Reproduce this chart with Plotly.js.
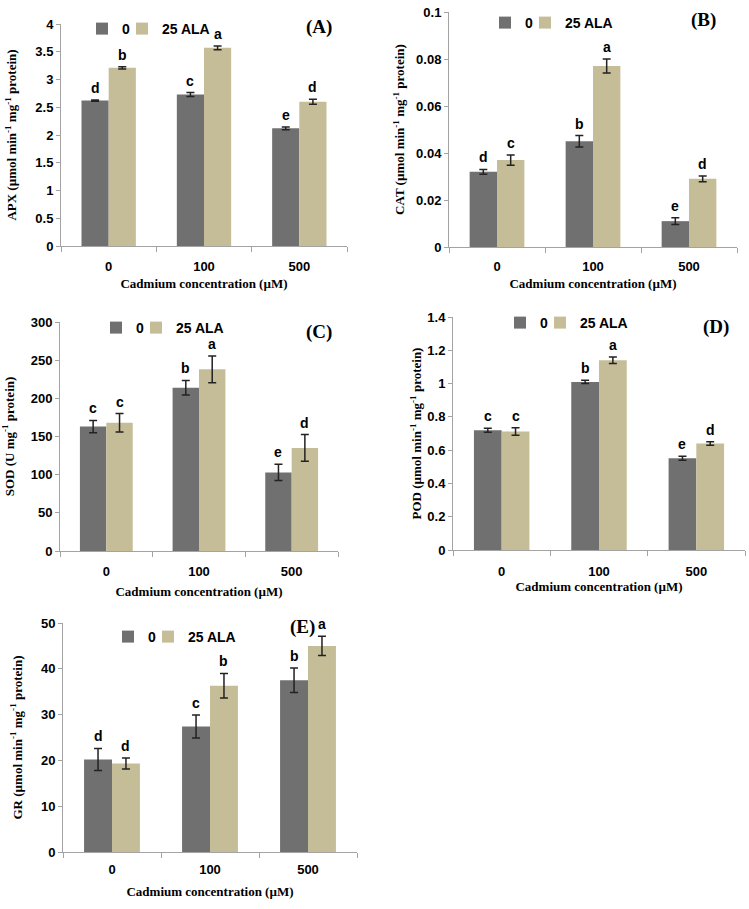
<!DOCTYPE html>
<html>
<head>
<meta charset="utf-8">
<script src="https://cdn.plot.ly/plotly-3.0.1.min.js"></script>
<style>html,body{margin:0;padding:0;background:#fff;}#chart{width:749px;height:909px;}</style>
</head>
<body>
<div id="chart"></div>
<script>
// ---- data ----
const categories = ['0', '100', '500'];
const seriesNames = ['0', '25 ALA'];

const apxCtrl = [2.62, 2.73, 2.12];
const apxAla = [3.21, 3.57, 2.60];
const apxCtrlErr = [0.01, 0.035, 0.025];
const apxAlaErr = [0.02, 0.035, 0.045];
const apxLetCtrl = ['d', 'c', 'e'];
const apxLetAla = ['b', 'a', 'd'];

const catCtrl = [0.032, 0.045, 0.011];
const catAla = [0.037, 0.077, 0.029];
const catCtrlErr = [0.001, 0.0024, 0.0014];
const catAlaErr = [0.0022, 0.003, 0.0012];
const catLetCtrl = ['d', 'b', 'e'];
const catLetAla = ['c', 'a', 'd'];

const sodCtrl = [163, 214, 103];
const sodAla = [168, 238, 135];
const sodCtrlErr = [8, 9.5, 10.5];
const sodAlaErr = [12, 17.5, 17.5];
const sodLetCtrl = ['c', 'b', 'e'];
const sodLetAla = ['c', 'a', 'd'];

const podCtrl = [0.72, 1.01, 0.552];
const podAla = [0.712, 1.14, 0.64];
const podCtrlErr = [0.012, 0.01, 0.012];
const podAlaErr = [0.022, 0.02, 0.01];
const podLetCtrl = ['c', 'b', 'e'];
const podLetAla = ['c', 'a', 'd'];

const grCtrl = [20.2, 27.4, 37.5];
const grAla = [19.3, 36.3, 45.0];
const grCtrlErr = [2.4, 2.5, 2.7];
const grAlaErr = [1.2, 2.7, 2.1];
const grLetCtrl = ['d', 'c', 'b'];
const grLetAla = ['d', 'b', 'a'];

// ---- styling / layout ----
const W = 749, H = 909;
const darkColor = '#707070';
const tanColor = '#c5bd97';
const axisColor = '#a3a3a3';
const bargap = 0.43;
const sans = 'Liberation Sans, Arial, sans-serif';
const serif = 'Liberation Serif, Times New Roman, serif';

const unit = ' (µmol min<sup>-1</sup> mg<sup>-1</sup> protein)';
const panels = [
  {ctrl: apxCtrl, ala: apxAla, ce: apxCtrlErr, ae: apxAlaErr, lc: apxLetCtrl, la: apxLetAla,
   ytitle: 'APX' + unit, range: [0, 4], dtick: 0.5, label: '(A)',
   px: [61, 347], py: [24, 246], legX: [82, 122], legY: 29, lab: [319, 27],
   yStand: 15, xLabStand: 8, xStand: 6},
  {ctrl: catCtrl, ala: catAla, ce: catCtrlErr, ae: catAlaErr, lc: catLetCtrl, la: catLetAla,
   ytitle: 'CAT' + unit, range: [0, 0.1], dtick: 0.02, label: '(B)',
   px: [449, 737], py: [12, 247], legX: [485, 525], legY: 23, lab: [703, 20],
   yStand: 8, xLabStand: 7, xStand: 6},
  {ctrl: sodCtrl, ala: sodAla, ce: sodCtrlErr, ae: sodAlaErr, lc: sodLetCtrl, la: sodLetAla,
   ytitle: 'SOD (U mg<sup>-1</sup> protein)', range: [0, 300], dtick: 50, label: '(C)',
   px: [60, 338], py: [322, 551], legX: [96, 136], legY: 328, lab: [319, 332],
   yStand: 13, xLabStand: 8, xStand: 9},
  {ctrl: podCtrl, ala: podAla, ce: podCtrlErr, ae: podAlaErr, lc: podLetCtrl, la: podLetAla,
   ytitle: 'POD' + unit, range: [0, 1.4], dtick: 0.2, label: '(D)',
   px: [453, 745], py: [317, 550], legX: [500, 540], legY: 323, lab: [716, 327],
   yStand: 2, xLabStand: 9, xStand: 4},
  {ctrl: grCtrl, ala: grAla, ce: grCtrlErr, ae: grAlaErr, lc: grLetCtrl, la: grLetAla,
   ytitle: 'GR' + unit, range: [0, 50], dtick: 10, label: '(E)',
   px: [63, 357], py: [623, 852], legX: [108, 148], legY: 637, lab: [302, 627],
   yStand: 15, xLabStand: 5, xStand: 11}
];

const data = [];
const layout = {
  width: W, height: H,
  margin: {l: 0, r: 0, t: 0, b: 0},
  paper_bgcolor: '#fff', plot_bgcolor: '#fff',
  barmode: 'group', bargap: bargap, bargroupgap: 0,
  showlegend: true,
  annotations: [],
  font: {family: sans, color: '#000'}
};

const legendName = idx => idx === 0 ? 'legend' : 'legend' + (idx + 1);

panels.forEach((p, i) => {
  const n = i + 1;
  const xa = n === 1 ? 'x' : 'x' + n;
  const ya = n === 1 ? 'y' : 'y' + n;
  const errStyle = {type: 'data', visible: true, color: '#222', thickness: 1.5, width: 4};
  const seriesVals = [p.ctrl, p.ala];
  const seriesErr = [p.ce, p.ae];
  const seriesCol = [darkColor, tanColor];
  [0, 1].forEach(s => {
    const ln = legendName(i * 2 + s);
    data.push({
      type: 'bar', name: seriesNames[s], x: categories, y: seriesVals[s],
      error_y: Object.assign({array: seriesErr[s]}, errStyle),
      marker: {color: seriesCol[s]}, xaxis: xa, yaxis: ya, legend: ln
    });
    layout[ln] = {
      orientation: 'h', x: p.legX[s] / W, y: 1 - p.legY / H,
      xanchor: 'left', yanchor: 'middle', bgcolor: 'rgba(0,0,0,0)',
      font: {family: sans, size: 14, color: '#000', weight: 'bold'},
      itemwidth: 30
    };
  });
  const xKey = n === 1 ? 'xaxis' : 'xaxis' + n;
  const yKey = n === 1 ? 'yaxis' : 'yaxis' + n;
  layout[xKey] = {
    domain: [p.px[0] / W, p.px[1] / W], anchor: ya, type: 'category',
    range: [-0.5, categories.length - 0.5],
    showline: true, linecolor: axisColor, linewidth: 1,
    ticks: 'outside', tickson: 'boundaries', ticklen: 5, tickcolor: axisColor,
    showgrid: false, zeroline: false,
    tickfont: {family: sans, size: 13, color: '#000', weight: 'bold'},
    ticklabelstandoff: p.xLabStand,
    title: {text: 'Cadmium concentration (µM)', standoff: p.xStand,
            font: {family: serif, size: 13, color: '#000', weight: 'bold'}}
  };
  layout[yKey] = {
    domain: [1 - p.py[1] / H, 1 - p.py[0] / H], anchor: xa,
    range: p.range, dtick: p.dtick, tick0: 0,
    showline: true, linecolor: axisColor, linewidth: 1,
    ticks: 'outside', ticklen: 4, tickcolor: axisColor,
    showgrid: false, zeroline: false,
    tickfont: {family: sans, size: 13, color: '#000', weight: 'bold'},
    title: {text: p.ytitle, standoff: p.yStand,
            font: {family: serif, size: 13, color: '#000', weight: 'bold'}}
  };
  // significance letters above error bars (category index on x)
  const catPx = (p.px[1] - p.px[0]) / categories.length;
  const off = catPx * (1 - bargap) / 4;
  const lets = [p.lc, p.la];
  [0, 1].forEach(s => {
    categories.forEach((c, k) => {
      layout.annotations.push({
        xref: xa, yref: ya, x: k, y: seriesVals[s][k] + seriesErr[s][k],
        xshift: s === 0 ? -off : off, yshift: 2,
        text: lets[s][k], showarrow: false, yanchor: 'bottom', xanchor: 'center',
        font: {family: sans, size: 14, color: '#000', weight: 'bold'}
      });
    });
  });
  // panel label
  layout.annotations.push({
    xref: 'paper', yref: 'paper', x: p.lab[0] / W, y: 1 - p.lab[1] / H,
    text: p.label, showarrow: false, xanchor: 'center', yanchor: 'middle',
    font: {family: serif, size: 19, color: '#000', weight: 'bold'}
  });
});

Plotly.newPlot('chart', data, layout, {displayModeBar: false, staticPlot: true});
</script>
</body>
</html>
